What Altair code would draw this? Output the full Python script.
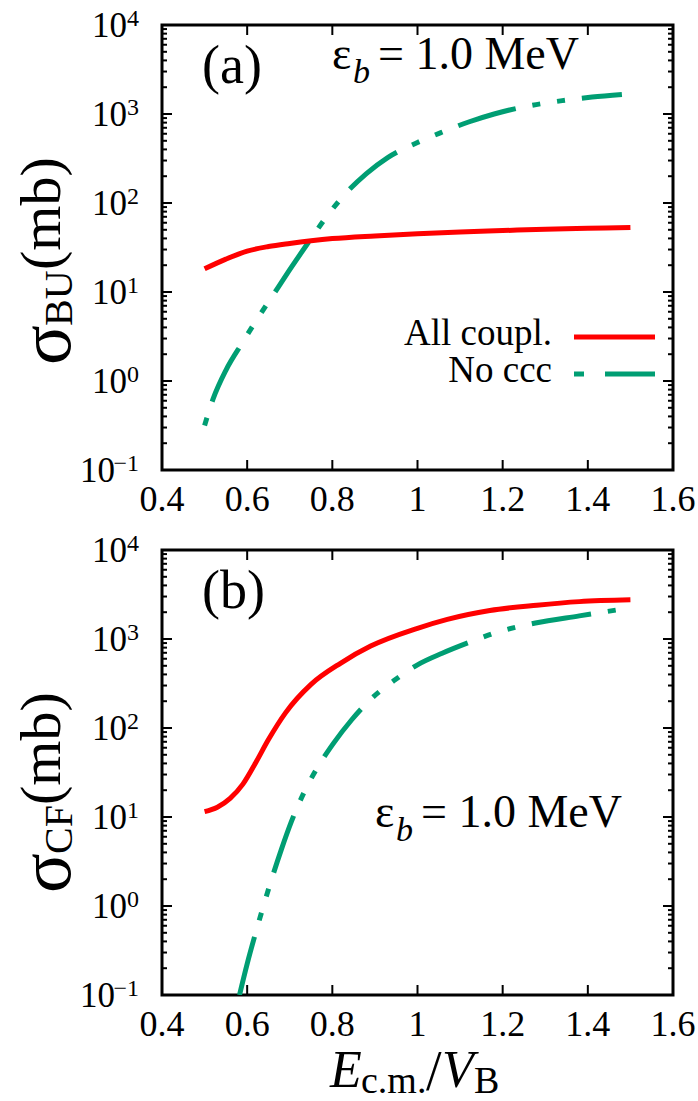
import altair as alt
import pandas as pd

# ---------------- data ----------------
# (a) breakup cross section sigma_BU (mb) vs E_cm / V_B
bu_all_x = [0.5, 0.55, 0.6, 0.65, 0.7, 0.75, 0.8, 0.9, 1.0, 1.1, 1.2, 1.3, 1.4, 1.5]
bu_all_y = [18.2, 23.4, 28.8, 32.4, 35.1, 37.6, 39.8, 42.7, 45.2, 47.3, 49.0, 50.7, 51.9, 53.2]

bu_noccc_x = [0.5, 0.52, 0.55, 0.59, 0.62, 0.66, 0.70, 0.75, 0.79, 0.83, 0.88, 0.93,
              1.0, 1.06, 1.12, 1.18, 1.26, 1.34, 1.41, 1.48]
bu_noccc_y = [0.316, 0.63, 1.32, 2.75, 4.68, 9.12, 17.8, 39.8, 74.1, 126, 214, 324,
              479, 631, 813, 1000, 1230, 1413, 1549, 1660]

# (b) complete fusion cross section sigma_CF (mb)
cf_all_x = [0.5, 0.53, 0.56, 0.59, 0.62, 0.65, 0.69, 0.75, 0.82, 0.89, 1.0, 1.07,
            1.17, 1.28, 1.38, 1.5]
cf_all_y = [11.5, 12.9, 16.2, 23.4, 40.7, 74.1, 148, 309, 537, 832, 1318, 1660,
            2089, 2399, 2630, 2754]

cf_noccc_x = [0.582, 0.60, 0.62, 0.64, 0.66, 0.68, 0.704, 0.735, 0.767, 0.803, 0.845,
              0.892, 0.944, 1.0, 1.058, 1.12, 1.19, 1.277, 1.38, 1.5]
cf_noccc_y = [0.1, 0.224, 0.501, 1.07, 2.19, 4.27, 8.91, 19.5, 37.2, 67.6, 123,
              214, 339, 513, 692, 912, 1202, 1514, 1820, 2239]

x_ticks = [0.4, 0.6, 0.8, 1.0, 1.2, 1.4, 1.6]
x_tick_labels = ["0.4", "0.6", "0.8", "1", "1.2", "1.4", "1.6"]
y_decades = [0.1, 1, 10, 100, 1000, 10000]
y_exponents = ["\u22121", "0", "1", "2", "3", "4"]
y_minor = [m * 10.0 ** k for k in range(-1, 4) for m in range(2, 10)]

series_names = ["All coupl.", "No ccc"]

# ---------------- style ----------------
W, H = 511, 445
RED = "#ff0000"
GREEN = "#009e73"
FONT = "Liberation Serif"
LW = 5
DASH = [60, 17, 8, 17, 8, 17]

xscale = alt.Scale(domain=[0.4, 1.6], nice=False, zero=False)
yscale = alt.Scale(type="log", domain=[0.1, 10000], nice=False)
one = pd.DataFrame({"k": [0]})


def X(field="x"):
    return alt.X(f"{field}:Q", scale=xscale, axis=None)


def Y(field="y"):
    return alt.Y(f"{field}:Q", scale=yscale, axis=None)


def curve(xs, ys, color, dash=None, offset=0):
    kw = dict(color=color, strokeWidth=LW, clip=True, interpolate="monotone")
    if dash:
        kw["strokeDash"] = dash
        kw["strokeDashOffset"] = offset
    df = pd.DataFrame({"x": xs, "y": ys})
    return alt.Chart(df).mark_line(**kw).encode(x=X(), y=Y())


def txt(s, x, y, size, align="left", angle=0, style=None, font=FONT, weight=None):
    kw = dict(text=s, font=font, fontSize=size, align=align,
              baseline="alphabetic", color="black")
    if angle:
        kw["angle"] = angle
    if style:
        kw["fontStyle"] = style
    if weight:
        kw["fontWeight"] = weight
    return alt.Chart(one).mark_text(**kw).encode(x=alt.value(x), y=alt.value(y))


def frame_ticks():
    ydf = pd.DataFrame({"y": y_minor})
    ymaj = pd.DataFrame({"y": y_decades})
    xdf = pd.DataFrame({"x": x_ticks})
    layers = []
    for df, ln in ((ydf, 5), (ymaj, 10)):
        base = alt.Chart(df).mark_rule(color="black", strokeWidth=2)
        layers.append(base.encode(y=Y(), x=alt.value(0), x2=alt.value(ln)))
        layers.append(base.encode(y=Y(), x=alt.value(W - ln), x2=alt.value(W)))
    xb = alt.Chart(xdf).mark_rule(color="black", strokeWidth=2)
    layers.append(xb.encode(x=X(), y=alt.value(H - 10), y2=alt.value(H)))
    layers.append(xb.encode(x=X(), y=alt.value(0), y2=alt.value(10)))
    return layers


def tick_labels():
    xl = alt.Chart(pd.DataFrame({"x": x_ticks, "t": x_tick_labels})).mark_text(
        font=FONT, fontSize=36, align="center", baseline="alphabetic", color="black"
    ).encode(x=X(), y=alt.value(H + 41), text="t:N")
    yl = alt.Chart(pd.DataFrame({"y": y_decades, "e": y_exponents}))
    tens = yl.transform_calculate(
        xb="-23 - (length(datum.e) > 1 ? 24 : 12)"
    ).mark_text(
        text="10", font=FONT, fontSize=35, align="right", baseline="alphabetic",
        dy=12, color="black"
    ).encode(y=Y(), x=alt.X("xb:Q", scale=None, axis=None))
    exps = yl.mark_text(
        font=FONT, fontSize=24, align="right", baseline="alphabetic", dy=1,
        color="black"
    ).encode(y=Y(), x=alt.value(-23), text="e:N")
    return [xl, tens, exps]


def ytitle(sub, sub_w, y0):
    # sigma_sub(mb), rotated, read bottom to top
    return [
        txt("\u03c3", -92, y0, 74, angle=270),
        txt(sub, -90, y0 - 39, 40, angle=270),
        txt("(mb)", -102, y0 - 39 - sub_w, 58, angle=270),
    ]


def eps_label(x0, yb):
    return [
        txt("\u03b5", x0, yb, 46),
        txt("b", x0 + 21, yb + 14, 34, style="italic"),
        txt("= 1.0 MeV", x0 + 46, yb, 46),
    ]


# ---------------- panel (a) ----------------
anchor = alt.Chart(one).mark_rule(opacity=0, strokeWidth=1).encode(
    x=alt.value(-160), x2=alt.value(-159), y=alt.value(-23), y2=alt.value(-22)
)

legend = [
    txt(series_names[0], 390, 320, 37, align="right"),
    txt(series_names[1], 390, 357, 37, align="right"),
    alt.Chart(one).mark_rule(color=RED, strokeWidth=LW).encode(
        x=alt.value(412), x2=alt.value(493), y=alt.value(312)),
    alt.Chart(one).mark_rule(color=GREEN, strokeWidth=LW, strokeDash=[10, 21, 51, 20]).encode(
        x=alt.value(412), x2=alt.value(493), y=alt.value(349)),
]

panel_a = alt.layer(
    anchor,
    *frame_ticks(),
    curve(bu_noccc_x, bu_noccc_y, GREEN, DASH, offset=102),
    curve(bu_all_x, bu_all_y, RED),
    *tick_labels(),
    *ytitle("BU", 56, 340),
    txt("(a)", 40, 58, 54),
    *eps_label(170, 44),
    *legend,
).properties(width=W, height=H)

# ---------------- panel (b) ----------------
xtitle = [
    txt("E", 168, 537, 52, style="italic"),
    txt("c.m.", 199, 543, 38),
    txt("/", 264, 540, 56),
    txt("V", 280, 537, 52, style="italic"),
    txt("B", 312, 543, 38),
]

panel_b = alt.layer(
    *frame_ticks(),
    curve(cf_noccc_x, cf_noccc_y, GREEN, DASH),
    curve(cf_all_x, cf_all_y, RED),
    *tick_labels(),
    *ytitle("CF", 49, 343),
    txt("(b)", 40, 58, 54),
    *eps_label(213, 277),
    *xtitle,
).properties(width=W, height=H)

chart = alt.vconcat(panel_a, panel_b, spacing=80, bounds="flush", padding=0).configure_view(
    stroke="black", strokeWidth=3
)

chart.save("out.html", embed_options={"renderer": "svg", "actions": False})
